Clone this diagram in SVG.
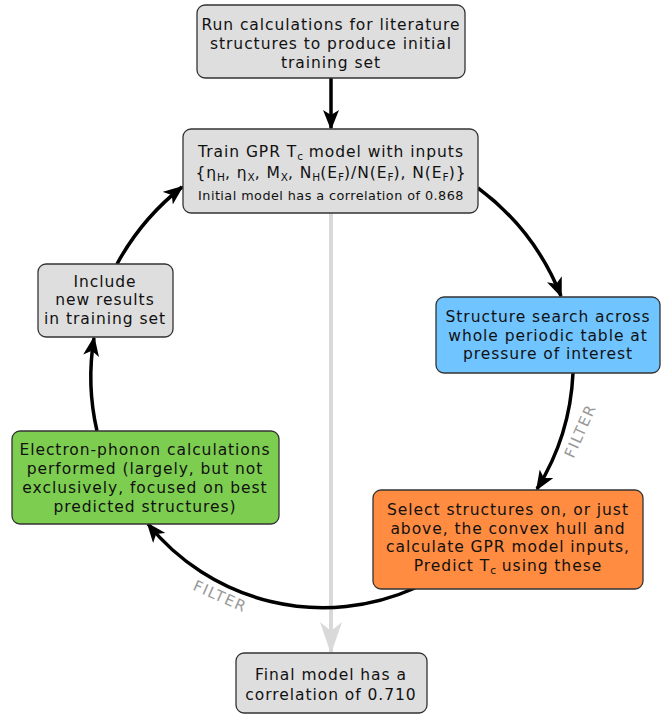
<svg xmlns="http://www.w3.org/2000/svg" width="665" height="715" viewBox="0 0 665 715">
<style>
text{font-family:"DejaVu Sans",Verdana,sans-serif;font-size:15.5px;letter-spacing:0.95px;fill:#111;text-anchor:middle}
.box{stroke:#333;stroke-width:1.3}
.g{fill:#dedede}
.small{font-size:12.8px;letter-spacing:0.45px}
.sub{font-size:10.5px;letter-spacing:0}
.lbl{fill:#999;font-size:15px;letter-spacing:1.4px}
.arc{fill:none;stroke:#000;stroke-width:3.5}
</style>
<defs>
<marker id="ah" viewBox="0 0 20 16" refX="18" refY="8" markerWidth="20" markerHeight="16" markerUnits="userSpaceOnUse" orient="auto">
<path d="M0,0 L20,8 L0,16 L5,8 Z" fill="#000"/>
</marker>
<marker id="ahg" viewBox="0 0 32 22" refX="30" refY="11" markerWidth="32" markerHeight="22" markerUnits="userSpaceOnUse" orient="auto">
<path d="M0,0 L32,11 L0,22 L9,11 Z" fill="#d9d9d9"/>
</marker>
</defs>
<g id="connectors">
<line x1="331" y1="213" x2="331" y2="652" stroke="#d9d9d9" stroke-width="4" marker-end="url(#ahg)"/>
<line x1="331" y1="78" x2="331" y2="128" class="arc" marker-end="url(#ah)"/>
<path class="arc" d="M478,188 A250,250 0 0 1 561,296" marker-end="url(#ah)"/>
<path class="arc" d="M573,373 A240,240 0 0 1 537,489" marker-end="url(#ah)"/>
<path class="arc" d="M415,588 A225,225 0 0 1 148,524" marker-end="url(#ah)"/>
<path class="arc" d="M97,431 A240,240 0 0 1 94,338" marker-end="url(#ah)"/>
<path class="arc" d="M117,264 A250,250 0 0 1 182,187" marker-end="url(#ah)"/>
<text class="lbl" transform="translate(585,433) rotate(-66)">FILTER</text>
<text class="lbl" transform="translate(218,601) rotate(24)">FILTER</text>
</g>
<g id="n-start">
<rect class="box g" x="197" y="5" width="268" height="73" rx="8"/>
<text x="331" y="30">Run calculations for literature</text>
<text x="331" y="49">structures to produce initial</text>
<text x="331" y="68">training set</text>
</g>
<g id="n-train">
<rect class="box g" x="183" y="129" width="295" height="84" rx="8"/>
<text x="331" y="157">Train GPR T<tspan class="sub" dy="3">c</tspan><tspan dy="-3"> model with inputs</tspan></text>
<text x="331" y="178">{η<tspan class="sub" dy="3">H</tspan><tspan dy="-3">, η</tspan><tspan class="sub" dy="3">X</tspan><tspan dy="-3">, M</tspan><tspan class="sub" dy="3">X</tspan><tspan dy="-3">, N</tspan><tspan class="sub" dy="3">H</tspan><tspan dy="-3">(E</tspan><tspan class="sub" dy="3">F</tspan><tspan dy="-3">)/N(E</tspan><tspan class="sub" dy="3">F</tspan><tspan dy="-3">), N(E</tspan><tspan class="sub" dy="3">F</tspan><tspan dy="-3">)}</tspan></text>
<text class="small" x="331" y="200">Initial model has a correlation of 0.868</text>
</g>
<g id="n-search">
<rect class="box" fill="#70c4ff" x="436" y="297" width="224" height="76" rx="8"/>
<text x="548" y="322">Structure search across</text>
<text x="548" y="341">whole periodic table at</text>
<text x="548" y="359">pressure of interest</text>
</g>
<g id="n-select">
<rect class="box" fill="#ff8c40" x="373" y="490" width="270" height="99" rx="8"/>
<text x="508" y="515">Select structures on, or just</text>
<text x="508" y="534">above, the convex hull and</text>
<text x="508" y="552">calculate GPR model inputs,</text>
<text x="508" y="571">Predict T<tspan class="sub" dy="3">c</tspan><tspan dy="-3"> using these</tspan></text>
</g>
<g id="n-eph">
<rect class="box" fill="#7dce50" x="12" y="431" width="267" height="93" rx="8"/>
<text x="145" y="455">Electron-phonon calculations</text>
<text x="145" y="474">performed (largely, but not</text>
<text x="145" y="493">exclusively, focused on best</text>
<text x="145" y="512">predicted structures)</text>
</g>
<g id="n-include">
<rect class="box g" x="38" y="264" width="135" height="73" rx="8"/>
<text x="105" y="287">Include</text>
<text x="105" y="305">new results</text>
<text x="105" y="324">in training set</text>
</g>
<g id="n-final">
<rect class="box g" x="236" y="653" width="191" height="60" rx="8"/>
<text x="331" y="680">Final model has a</text>
<text x="331" y="700">correlation of 0.710</text>
</g>
</svg>
